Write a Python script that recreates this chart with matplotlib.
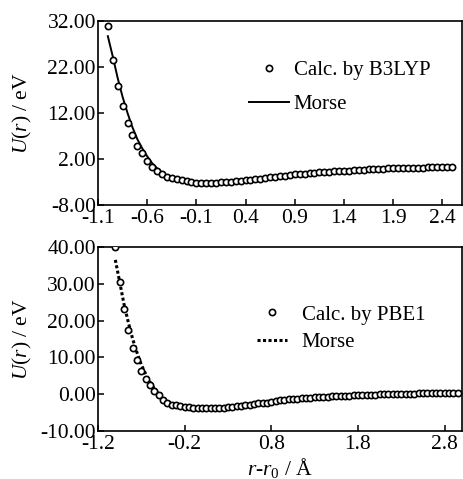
import matplotlib

matplotlib.use("Agg")
import matplotlib.pyplot as plt
from matplotlib.ticker import FixedLocator, FormatStrFormatter

plt.rcParams["font.family"] = ["Liberation Serif", "DejaVu Serif"]
plt.rcParams["mathtext.fontset"] = "custom"
plt.rcParams["mathtext.rm"] = "Liberation Serif"
plt.rcParams["mathtext.it"] = "Liberation Serif:italic"
plt.rcParams["axes.unicode_minus"] = False

# B3LYP panel
b3_x = [
    -1.00, -0.95, -0.90, -0.85, -0.80, -0.75, -0.70, -0.65, -0.60, -0.55,
    -0.50, -0.45, -0.40, -0.35, -0.30, -0.25, -0.20, -0.15, -0.10, -0.05,
    0.00, 0.05, 0.10, 0.15, 0.20, 0.25, 0.30, 0.35, 0.40, 0.45,
    0.50, 0.55, 0.60, 0.65, 0.70, 0.75, 0.80, 0.85, 0.90, 0.95,
    1.00, 1.05, 1.10, 1.15, 1.20, 1.25, 1.30, 1.35, 1.40, 1.45,
    1.50, 1.55, 1.60, 1.65, 1.70, 1.75, 1.80, 1.85, 1.90, 1.95,
    2.00, 2.05, 2.10, 2.15, 2.20, 2.25, 2.30, 2.35, 2.40, 2.45, 2.50,
]
b3_u = [
    30.9, 23.6, 17.9, 13.5, 9.9, 7.2, 4.8, 3.2, 1.6, 0.33,
    -0.6, -1.25, -1.83, -2.2, -2.4, -2.55, -2.76, -3.0, -3.2, -3.2,
    -3.25, -3.25, -3.2, -3.1, -3.0, -2.95, -2.85, -2.7, -2.6, -2.5,
    -2.4, -2.25, -2.1, -2.0, -1.9, -1.8, -1.6, -1.45, -1.3, -1.2,
    -1.2, -1.1, -1.0, -0.9, -0.8, -0.75, -0.7, -0.6, -0.5, -0.5,
    -0.4, -0.35, -0.3, -0.25, -0.2, -0.15, -0.1, -0.05, 0.0, 0.0,
    0.05, 0.1, 0.1, 0.15, 0.15, 0.2, 0.25, 0.3, 0.3, 0.3, 0.35,
]
b3_morse_x = [
    -1.00, -0.95, -0.90, -0.85, -0.80, -0.75, -0.70, -0.65, -0.60, -0.55,
    -0.50, -0.45, -0.40, -0.35, -0.30, -0.20, -0.10, 0.00, 0.20, 0.40,
    0.60, 0.80, 1.00, 1.20, 1.50, 1.80, 2.10, 2.50,
]
b3_morse_u = [
    28.7, 24.3, 19.6, 15.5, 12.0, 8.9, 6.3, 4.3, 2.6, 1.1,
    0.0, -0.9, -1.6, -2.1, -2.5, -3.0, -3.25, -3.3, -3.1, -2.6,
    -2.1, -1.6, -1.2, -0.8, -0.35, -0.05, 0.15, 0.35,
]

# PBE1 panel
pbe_x = [
    -1.00, -0.95, -0.90, -0.85, -0.80, -0.75, -0.70, -0.65, -0.60, -0.55,
    -0.50, -0.45, -0.40, -0.35, -0.30, -0.25, -0.20, -0.15, -0.10, -0.05,
    0.00, 0.05, 0.10, 0.15, 0.20, 0.25, 0.30, 0.35, 0.40, 0.45,
    0.50, 0.55, 0.60, 0.65, 0.70, 0.75, 0.80, 0.85, 0.90, 0.95,
    1.00, 1.05, 1.10, 1.15, 1.20, 1.25, 1.30, 1.35, 1.40, 1.45,
    1.50, 1.55, 1.60, 1.65, 1.70, 1.75, 1.80, 1.85, 1.90, 1.95,
    2.00, 2.05, 2.10, 2.15, 2.20, 2.25, 2.30, 2.35, 2.40, 2.45,
    2.50, 2.55, 2.60, 2.65, 2.70, 2.75, 2.80, 2.85, 2.90, 2.95,
]
pbe_u = [
    40.0, 30.4, 23.2, 17.5, 12.6, 9.4, 6.3, 4.2, 2.5, 0.9,
    -0.3, -1.5, -2.3, -2.8, -3.0, -3.1, -3.4, -3.6, -3.8, -3.8,
    -3.8, -3.8, -3.8, -3.8, -3.8, -3.7, -3.6, -3.5, -3.3, -3.1,
    -3.0, -2.8, -2.7, -2.5, -2.4, -2.3, -2.1, -1.9, -1.7, -1.6,
    -1.4, -1.3, -1.2, -1.0, -0.95, -0.9, -0.8, -0.75, -0.7, -0.65,
    -0.6, -0.55, -0.5, -0.45, -0.4, -0.35, -0.25, -0.2, -0.15, -0.1,
    -0.1, -0.05, -0.05, 0.0, 0.0, 0.0, 0.05, 0.1, 0.15, 0.15,
    0.2, 0.2, 0.2, 0.2, 0.2, 0.2, 0.2, 0.2, 0.2, 0.2,
]
pbe_morse_x = [
    -1.00, -0.95, -0.90, -0.85, -0.80, -0.75, -0.70, -0.65, -0.60, -0.55,
    -0.50, -0.45, -0.40, -0.30, -0.20, -0.10, 0.10, 0.40, 0.80, 1.20,
    1.60, 2.00, 2.50, 3.00,
]
pbe_morse_u = [
    36.5, 30.5, 24.5, 19.5, 15.0, 11.3, 8.0, 5.5, 3.3, 1.5,
    0.1, -1.0, -1.9, -3.0, -3.5, -3.8, -3.8, -3.3, -2.1, -1.0,
    -0.5, -0.1, 0.15, 0.2,
]

top_xticks = [-1.1, -0.6, -0.1, 0.4, 0.9, 1.4, 1.9, 2.4]
top_yticks = [-8, 2, 12, 22, 32]
bot_xticks = [-1.2, -0.2, 0.8, 1.8, 2.8]
bot_yticks = [-10, 0, 10, 20, 30, 40]

W, H = 463, 479
fig = plt.figure(figsize=(W / 100, H / 100), dpi=100)
ax1 = fig.add_axes([98 / W, 1 - 205 / H, 364 / W, 184 / H])
ax2 = fig.add_axes([98 / W, 1 - 431 / H, 364 / W, 184 / H])

marker_kw = dict(
    linestyle="none", marker="o", markersize=4.5, markeredgewidth=1.2,
    markerfacecolor="white", markeredgecolor="black", zorder=3,
)

ax1.plot(b3_morse_x, b3_morse_u, color="black", linewidth=1.4, label="Morse", zorder=2)
ax1.plot(b3_x, b3_u, label="Calc. by B3LYP", **marker_kw)
ax1.set_xlim(-1.1, 2.6)
ax1.set_ylim(-8, 32)

ax2.plot(pbe_morse_x, pbe_morse_u, color="black", linewidth=2.2,
         linestyle=(0, (1.0, 0.8)), label="Morse", zorder=2)
ax2.plot(pbe_x, pbe_u, label="Calc. by PBE1", **marker_kw)
ax2.set_xlim(-1.2, 3.0)
ax2.set_ylim(-10, 40)

for ax, xt, yt in ((ax1, top_xticks, top_yticks), (ax2, bot_xticks, bot_yticks)):
    ax.xaxis.set_major_locator(FixedLocator(xt))
    ax.yaxis.set_major_locator(FixedLocator(yt))
    ax.xaxis.set_major_formatter(FormatStrFormatter("%.1f"))
    ax.yaxis.set_major_formatter(FormatStrFormatter("%.2f"))
    ax.tick_params(direction="in", length=4, width=1.1, labelsize=15.5,
                   top=False, right=False)
    ax.tick_params(axis="y", pad=1.5)
    ax.tick_params(axis="x", pad=3)
    for sp in ax.spines.values():
        sp.set_linewidth(1.2)
    ax.set_ylabel(r"$U\mathrm{(}r\mathrm{)}$ / eV", fontsize=15.5)
    ax.yaxis.set_label_coords(-0.175, 0.5)

ax2.set_xlabel(r"$r$-$r_{\mathrm{0}}$ / Å", fontsize=15.5, labelpad=1)

h1, l1 = ax1.get_legend_handles_labels()
ax1.legend([h1[1], h1[0]], [l1[1], l1[0]], frameon=False, fontsize=15,
           loc="upper left", bbox_to_anchor=(0.415, 0.785), borderpad=0,
           borderaxespad=0, handlelength=1.9, handletextpad=0.25, labelspacing=0.7)

h2, l2 = ax2.get_legend_handles_labels()
ax2.legend([h2[1], h2[0]], [l2[1], l2[0]], frameon=False, fontsize=15,
           loc="upper left", bbox_to_anchor=(0.437, 0.685), borderpad=0,
           borderaxespad=0, handlelength=1.45, handletextpad=0.7, labelspacing=0.4)

fig.savefig("out.png", dpi=100)
